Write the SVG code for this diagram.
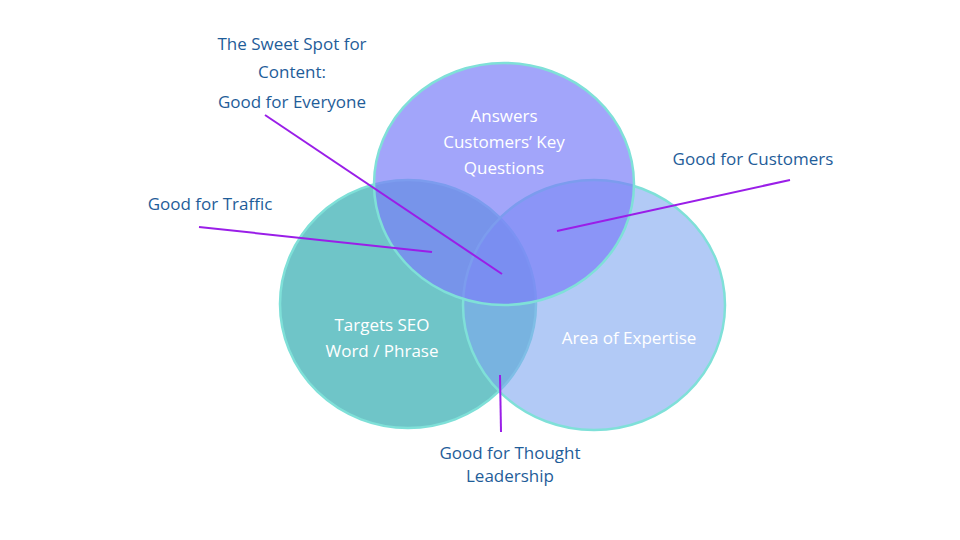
<svg xmlns="http://www.w3.org/2000/svg" width="960" height="540" viewBox="0 0 960 540">
<style>
.c{stroke:#7fe0d8;stroke-width:2.5}
.w{fill:#fff;font-family:"Open Sans","Noto Sans",sans-serif;font-size:17px;text-anchor:middle}
.l{fill:#1f5d99;font-family:"Open Sans","Noto Sans",sans-serif;font-size:17px;text-anchor:middle}
.ln{stroke:#9a1ee8;stroke-width:2;fill:none}
</style>
<rect width="960" height="540" fill="#fff"/>
<g id="left"><ellipse class="c" cx="408" cy="304" rx="128" ry="124" fill="#5fbfc2" fill-opacity="0.9"/></g>
<g id="right"><ellipse class="c" cx="594" cy="305" rx="131" ry="125" fill="#7fa6f0" fill-opacity="0.6"/></g>
<g id="top"><ellipse class="c" cx="504" cy="184" rx="130" ry="121" fill="#7b7ff8" fill-opacity="0.7"/></g>
<g id="texts">
<text class="w" x="504" y="122">Answers</text>
<text class="w" x="504" y="148">Customers’ Key</text>
<text class="w" x="504" y="174">Questions</text>
<text class="w" x="382" y="331">Targets SEO</text>
<text class="w" x="382" y="357">Word / Phrase</text>
<text class="w" x="629" y="344">Area of Expertise</text>
</g>
<g id="connectors">
<line class="ln" x1="265" y1="115" x2="502" y2="274" stroke-width="3"/>
<line class="ln" x1="199" y1="227" x2="432" y2="252"/>
<line class="ln" x1="790" y1="180" x2="557" y2="231"/>
<line class="ln" x1="500" y1="375" x2="501" y2="432"/>
</g>
<g id="labels">
<text class="l" x="292" y="50" font-size="23">The Sweet Spot for</text>
<text class="l" x="292" y="78" font-size="23">Content:</text>
<text class="l" x="292" y="108" font-size="23">Good for Everyone</text>
<text class="l" x="210" y="210">Good for Traffic</text>
<text class="l" x="753" y="165">Good for Customers</text>
<text class="l" x="510" y="459">Good for Thought</text>
<text class="l" x="510" y="482">Leadership</text>
</g>
</svg>
